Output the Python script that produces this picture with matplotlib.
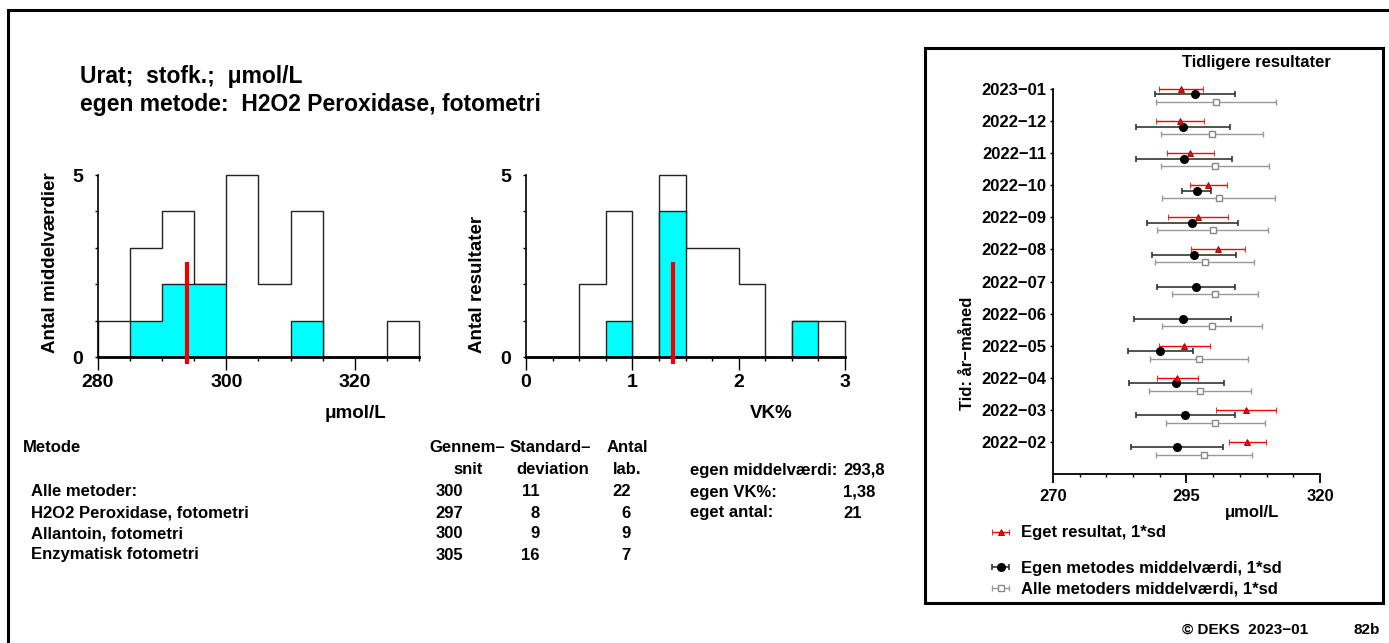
import numpy as np
import matplotlib
matplotlib.use("Agg")
import matplotlib.pyplot as plt
from matplotlib.patches import Rectangle

plt.rcParams['font.family'] = ['Liberation Sans', 'DejaVu Sans']
plt.rcParams['font.weight'] = 'bold'

# --- data -------------------------------------------------------------
um_edges = np.arange(280, 335, 5)
um_all = [1, 3, 4, 2, 5, 2, 4, 0, 0, 1]
um_own = [0, 1, 2, 2, 0, 0, 1, 0, 0, 0]
own_mean = 293.8

vk_edges = np.arange(0, 3.25, 0.25)
vk_all = [0, 0, 2, 4, 0, 5, 3, 3, 2, 0, 1, 1]
vk_own = [0, 0, 0, 1, 0, 4, 0, 0, 0, 0, 1, 0]
own_vk = 1.38

months = ['2023−01', '2022−12', '2022−11', '2022−10', '2022−09', '2022−08',
          '2022−07', '2022−06', '2022−05', '2022−04', '2022−03', '2022−02']
res_mean = [293.9, 293.7, 295.7, 299.1, 297.1, 300.9, np.nan, np.nan, 294.6, 293.3, 306.1, 306.4]
res_sd = [4.1, 4.5, 4.4, 3.5, 5.6, 5.1, np.nan, np.nan, 4.8, 3.9, 5.6, 3.4]
meth_mean = [296.6, 294.4, 294.6, 296.9, 296.1, 296.4, 296.8, 294.3, 290.1, 293.1, 294.8, 293.3]
meth_sd = [7.5, 8.8, 9.0, 2.7, 8.5, 7.8, 7.3, 9.1, 6.1, 8.9, 9.3, 8.6]
all_mean = [300.5, 299.8, 300.3, 301.0, 299.9, 298.4, 300.3, 299.8, 297.3, 297.5, 300.4, 298.3]
all_sd = [11.2, 9.6, 10.1, 10.5, 10.4, 9.3, 8.1, 9.4, 9.2, 9.5, 9.3, 9.0]

methods = ['Alle metoder:', 'H2O2 Peroxidase, fotometri', 'Allantoin, fotometri', 'Enzymatisk fotometri']
m_mean = ['300', '297', '300', '305']
m_sd = ['11', '8', '9', '16']
m_n = ['22', '6', '9', '7']
own_labels = ['egen middelværdi:', 'egen VK%:', 'eget antal:']
own_values = ['293,8', '1,38', '21']

W, H = 1389, 643
fig = plt.figure(figsize=(W / 100, H / 100), dpi=100)

def fx(x):
    return x / W

def fy(y):
    return 1 - y / H

def px_axes(x0, x1, y_top, y_bot):
    return fig.add_axes([fx(x0), fy(y_bot), (x1 - x0) / W, (y_bot - y_top) / H])

# outer frame
fig.add_artist(Rectangle((fx(8), -0.2), 1.2, fy(10) + 0.2, transform=fig.transFigure,
                         fill=False, lw=2.2, ec='black'))

fig.text(fx(80), fy(77), 'Urat;  stofk.;  μmol/L', fontsize=16.5, va='center')
fig.text(fx(80), fy(105), 'egen metode:  H2O2 Peroxidase, fotometri', fontsize=16.5, va='center')


def histo(ax, edges, all_c, own_c, mark, xlim, major, minor):
    ax.stairs(all_c, edges, color='#222222', lw=1, clip_on=False)
    ax.stairs(own_c, edges, fill=True, facecolor='#00ffff', edgecolor='#222222', lw=1, clip_on=False)
    ax.vlines(mark, -0.18, 2.6, color='#ee0000', lw=3, clip_on=False, zorder=3)
    ax.set_xlim(*xlim)
    ax.set_ylim(0, 5)
    for s in ['top', 'right']:
        ax.spines[s].set_visible(False)
    ax.spines['bottom'].set_linewidth(2)
    ax.spines['left'].set_linewidth(1.2)
    ax.set_xticks(major)
    ax.set_xticks(minor, minor=True)
    ax.set_yticks([0, 5])
    ax.set_yticks([1, 2, 3, 4], minor=True)
    ax.tick_params(axis='x', which='major', length=9.5, width=1, labelsize=14, pad=3)
    ax.tick_params(axis='x', which='minor', length=3, width=1)
    ax.tick_params(axis='y', which='both', length=2.5, width=1, labelsize=14, pad=8)


ax1 = px_axes(98, 419, 175, 357)
histo(ax1, um_edges, um_all, um_own, own_mean, (280, 330), [280, 300, 320], um_edges)
fig.text(fx(355), fy(414), 'μmol/L', fontsize=13.5, ha='center', va='center')
fig.text(fx(51), fy(353), 'Antal middelværdier', fontsize=13.5, rotation=90, ha='center', va='bottom')

ax2 = px_axes(526, 845, 175, 357)
histo(ax2, vk_edges, vk_all, vk_own, own_vk, (0, 3), [0, 1, 2, 3], vk_edges)
fig.text(fx(771), fy(414), 'VK%', fontsize=13.5, ha='center', va='center')
fig.text(fx(478), fy(353), 'Antal resultater', fontsize=13.5, rotation=90, ha='center', va='bottom')

# --- table ----------------------------------------------------------------
ts = 12
fig.text(fx(23), fy(448), 'Metode', fontsize=ts, va='center')
fig.text(fx(429), fy(448), 'Gennem–', fontsize=ts, va='center')
fig.text(fx(510), fy(448), 'Standard–', fontsize=ts, va='center')
fig.text(fx(607), fy(448), 'Antal', fontsize=ts, va='center')
fig.text(fx(453), fy(470), 'snit', fontsize=ts, va='center')
fig.text(fx(516), fy(470), 'deviation', fontsize=ts, va='center')
fig.text(fx(613), fy(470), 'lab.', fontsize=ts, va='center')
row_y = [492, 513, 534, 555]
for i, y in enumerate(row_y):
    fig.text(fx(31), fy(y), methods[i], fontsize=ts, va='center')
    fig.text(fx(463), fy(y), m_mean[i], fontsize=ts, va='center', ha='right')
    fig.text(fx(540), fy(y), m_sd[i], fontsize=ts, va='center', ha='right')
    fig.text(fx(631), fy(y), m_n[i], fontsize=ts, va='center', ha='right')
for i, y in enumerate([470, 492, 513]):
    fig.text(fx(690), fy(y), own_labels[i], fontsize=ts, va='center')
    fig.text(fx(843), fy(y), own_values[i], fontsize=ts, va='center')

# --- right panel --------------------------------------------------------
fig.add_artist(Rectangle((fx(925), fy(603)), (1383 - 925) / W, (603 - 48) / H,
                         transform=fig.transFigure, fill=False, lw=2.2, ec='black'))
fig.text(fx(1256), fy(63), 'Tidligere resultater', fontsize=12, ha='center', va='center')

ax3 = px_axes(1053, 1320, 89, 474)
pos = np.arange(len(months), 0, -1)
e_all = ax3.errorbar(all_mean, pos - 0.4, xerr=all_sd, fmt='s', ms=5, mfc='white', mec='#888888',
                     mew=1, ecolor='#999999', elinewidth=1, capsize=2.5, capthick=1, clip_on=False)
e_meth = ax3.errorbar(meth_mean, pos - 0.17, xerr=meth_sd, fmt='o', ms=5.5, mfc='black', mec='black',
                      ecolor='#333333', elinewidth=1.2, capsize=2.5, capthick=1.2, clip_on=False)
e_res = ax3.errorbar(res_mean, pos, xerr=res_sd, fmt='^', ms=4, mfc='#ff0000', mec='#880000', mew=0.6,
                     ecolor='#ff0000', elinewidth=1, capsize=2.5, capthick=1, clip_on=False)
ax3.set_xlim(270, 320)
ax3.set_ylim(0, 12)
for s in ['top', 'right']:
    ax3.spines[s].set_visible(False)
ax3.spines['bottom'].set_linewidth(1.3)
ax3.spines['left'].set_linewidth(1.3)
ax3.set_yticks(pos)
ax3.set_yticklabels(months)
ax3.set_xticks([270, 295, 320])
ax3.set_xticks(np.arange(270, 325, 5), minor=True)
ax3.tick_params(axis='y', length=2.5, width=1, labelsize=12, pad=2)
ax3.tick_params(axis='x', which='major', length=6.5, width=1.3, labelsize=12, pad=4)
ax3.tick_params(axis='x', which='minor', length=2.5, width=1)
fig.text(fx(1252), fy(513), 'μmol/L', fontsize=12, ha='center', va='center')
fig.text(fx(968), fy(410), 'Tid: år−måned', fontsize=12, rotation=90, ha='center', va='bottom')

for h, lab, y in [(e_res, 'Eget resultat, 1*sd', 533),
                  (e_meth, 'Egen metodes middelværdi, 1*sd', 568),
                  (e_all, 'Alle metoders middelværdi, 1*sd', 589)]:
    fig.legend([h], [lab], loc='center left', bbox_to_anchor=(fx(989), fy(y)), frameon=False,
               fontsize=12, handlelength=1.4, handletextpad=0.5, borderpad=0, borderaxespad=0)

fig.text(fx(1182), fy(630), '© DEKS  2023−01', fontsize=11, va='center')
fig.text(fx(1380), fy(630), '82b', fontsize=11, va='center', ha='right')

fig.savefig('out.png', dpi=100)
